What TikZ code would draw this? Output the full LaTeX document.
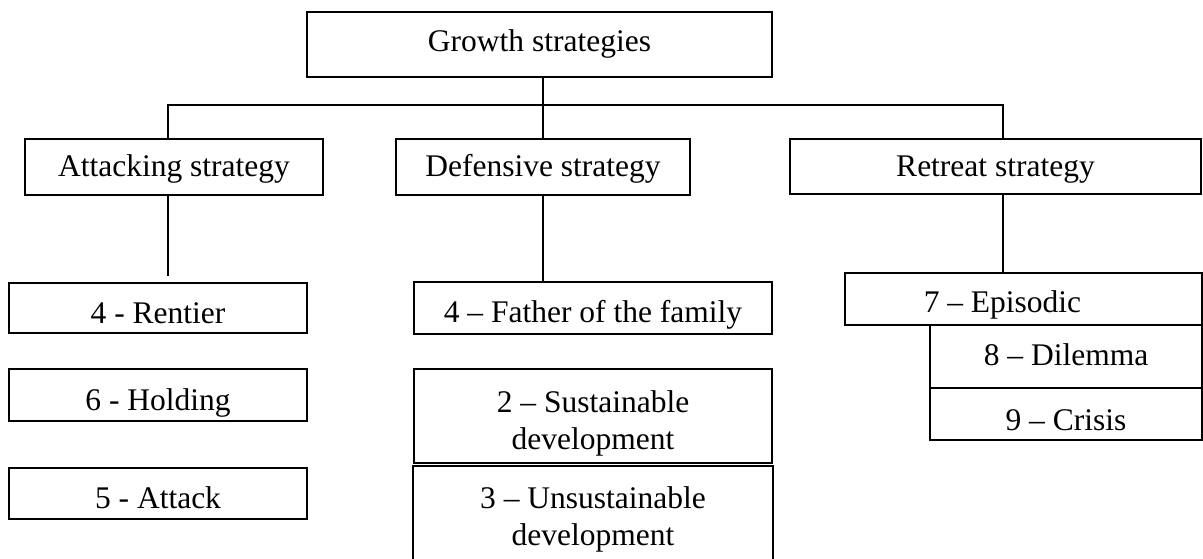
\documentclass[tikz,border=0pt]{standalone}
\usepackage{fontspec}
\setmainfont{Liberation Serif}
\begin{document}
\begin{tikzpicture}[x=1pt,y=-1pt,
  box/.style={draw, line width=2.2pt, rectangle, inner sep=0pt, text depth=0pt,
              font=\fontsize{31.5}{37}\selectfont},
  conn/.style={line width=1.2pt}]
\useasboundingbox (0,0) rectangle (1203,559);
% top level
\node[box, minimum width=465pt, minimum height=65pt, text height=15pt] (top) at (539.5,44.5) {Growth strategies};
% second level
\node[box, minimum width=298pt, minimum height=56pt, text height=20pt] (att) at (174,167) {Attacking strategy};
\node[box, minimum width=294pt, minimum height=56pt, text height=20pt] (def) at (543,167) {Defensive strategy};
\node[box, minimum width=411pt, minimum height=55pt, text height=20pt] (ret) at (995.5,166.5) {Retreat strategy};
% attacking column
\node[box, minimum width=298pt, minimum height=50pt, text height=30pt] (rent) at (158,308) {4 - Rentier};
\node[box, minimum width=298pt, minimum height=52pt, text height=30pt] (hold) at (158,395) {6 - Holding};
\node[box, minimum width=298pt, minimum height=51pt, text height=29pt] (attk) at (158,493.5) {5 - Attack};
% defensive column
\node[box, minimum width=358pt, minimum height=52pt, text height=28pt] (fath) at (593,308) {4 – Father of the family};
\node[box, align=center, minimum width=358pt, minimum height=94pt, text height=66pt] (sust) at (593,416) {2 – Sustainable\\development};
\node[box, draw=none, align=center, minimum width=358pt, minimum height=92pt, text height=64pt] (unsust) at (593,513) {3 – Unsustainable\\development};
\draw[line width=2.2pt] (unsust.south west) -- (unsust.north west) -- (unsust.north east) -- (unsust.south east);
% retreat column
\node[box, minimum width=357pt, minimum height=52pt, text height=26pt] (epi) at (1023.5,299) {\hspace*{-42pt}7 – Episodic};
\node[box, minimum width=272pt, minimum height=63pt, text height=17pt] (dil) at (1066,356.5) {8 – Dilemma};
\node[box, minimum width=272pt, minimum height=52pt, text height=32pt] (cris) at (1066,414) {9 – Crisis};
% connectors
\coordinate (busL) at (168,105);
\coordinate (busM) at (543,105);
\coordinate (busR) at (1003,105);
\draw[conn] (top.south -| busM) -- (busM);
\draw[conn] (att.north -| busL) |- (busR) -- (ret.north -| busR);
\draw[conn] (busM) -- (def.north -| busM);
\draw[conn, shorten >=6pt] (att.south -| busL) -- (rent.north -| busL);
\draw[conn] (def.south -| busM) -- (fath.north -| busM);
\draw[conn] (ret.south -| busR) -- (epi.north -| busR);
\end{tikzpicture}
\end{document}
